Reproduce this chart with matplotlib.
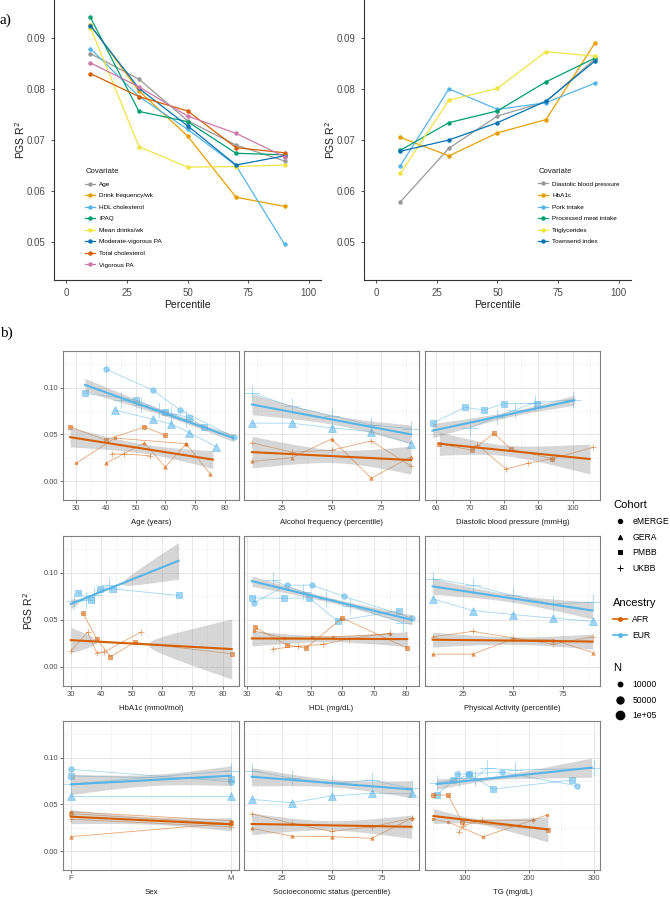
import numpy as np
import matplotlib
matplotlib.use('Agg')
import matplotlib.pyplot as plt
from matplotlib.lines import Line2D
from matplotlib.ticker import AutoMinorLocator, FixedLocator

plt.rcParams['font.family'] = ['Liberation Sans', 'DejaVu Sans']

##---------------- panel a data ----------------
pct = [10, 30, 50, 70, 90]

cov_left = ['Age', 'Drink frequency/wk', 'HDL cholesterol', 'IPAQ', 'Mean drinks/wk',
            'Moderate-vigorous PA', 'Total cholesterol', 'Vigorous PA']
r2_left = [
    [0.0869, 0.0819, 0.0738, 0.0690, 0.0659],
    [0.0925, 0.0796, 0.0708, 0.0588, 0.0570],
    [0.0879, 0.0785, 0.0721, 0.0650, 0.0496],
    [0.0940, 0.0756, 0.0736, 0.0674, 0.0671],
    [0.0920, 0.0687, 0.0647, 0.0648, 0.0651],
    [0.0924, 0.0801, 0.0728, 0.0651, 0.0669],
    [0.0830, 0.0785, 0.0757, 0.0685, 0.0675],
    [0.0851, 0.0804, 0.0747, 0.0713, 0.0667],
]

cov_right = ['Diastolic blood pressure', 'HbA1c', 'Pork intake', 'Processed meat intake',
             'Triglycerides', 'Townsend index']
r2_right = [
    [0.0579, 0.0684, 0.0747, 0.0775, 0.0858],
    [0.0705, 0.0669, 0.0714, 0.0740, 0.0889],
    [0.0650, 0.0800, 0.0760, 0.0773, 0.0811],
    [0.0680, 0.0734, 0.0757, 0.0814, 0.0860],
    [0.0635, 0.0778, 0.0801, 0.0873, 0.0864],
    [0.0678, 0.0700, 0.0734, 0.0776, 0.0854],
]

##---------------- panel b data ----------------
## each cohort: (x, R2); fits: (x ends, R2 ends, CI half widths left/mid/right)
age_eur = {'eMERGE': ([40, 56, 65, 83], [0.120, 0.097, 0.076, 0.047]),
           'PMBB': ([33, 50, 60, 68, 73], [0.094, 0.087, 0.074, 0.068, 0.058]),
           'GERA': ([43, 56, 62, 68, 77], [0.076, 0.066, 0.061, 0.052, 0.037]),
           'UKBB': ([45, 52, 58, 62, 67], [0.087, 0.081, 0.076, 0.072, 0.066])}
age_afr = {'eMERGE': ([30, 43, 67], [0.019, 0.046, 0.040]),
           'PMBB': ([28, 40, 53, 60], [0.058, 0.044, 0.058, 0.049]),
           'GERA': ([40, 53, 60, 67, 75], [0.019, 0.041, 0.015, 0.040, 0.008]),
           'UKBB': ([42, 46, 55], [0.029, 0.029, 0.027])}
age_fit = {'EUR': ([33, 83], [0.103, 0.046], [0.007, 0.003, 0.004]),
           'AFR': ([28, 76], [0.047, 0.023], [0.0105, 0.005, 0.0095])}

alc_eur = {'GERA': (pct, [0.062, 0.062, 0.057, 0.053, 0.040]),
           'UKBB': (pct, [0.094, 0.080, 0.070, 0.060, 0.056])}
alc_afr = {'GERA': (pct, [0.021, 0.025, 0.045, 0.003, 0.026]),
           'UKBB': (pct, [0.041, 0.031, 0.033, 0.043, 0.016])}
alc_fit = {'EUR': ([10, 90], [0.082, 0.050], [0.011, 0.005, 0.010]),
           'AFR': ([10, 90], [0.031, 0.0225], [0.017, 0.007, 0.015])}

dbp_eur = {'PMBB': ([59, 68.5, 74, 80, 89.5], [0.062, 0.079, 0.076, 0.083, 0.083]),
           'UKBB': ([70, 78, 83, 89, 100], [0.057, 0.069, 0.076, 0.084, 0.087])}
dbp_afr = {'PMBB': ([61, 70.5, 77, 82, 94], [0.040, 0.033, 0.051, 0.034, 0.024]),
           'UKBB': ([72, 80.5, 87, 94, 106], [0.039, 0.013, 0.019, 0.024, 0.036])}
dbp_fit = {'EUR': ([59, 100.5], [0.054, 0.0865], [0.0075, 0.003, 0.0055]),
           'AFR': ([61, 105], [0.040, 0.0236], [0.0125, 0.006, 0.016])}

hba_eur = {'PMBB': ([32.5, 36.5, 39.5, 44, 65.5], [0.079, 0.071, 0.083, 0.083, 0.076]),
           'UKBB': ([31, 35, 37.5, 42.5], [0.070, 0.071, 0.076, 0.087])}
hba_afr = {'PMBB': ([34, 38.5, 43, 51, 83], [0.057, 0.030, 0.011, 0.026, 0.014]),
           'UKBB': ([30, 35.5, 38.5, 41, 53], [0.017, 0.037, 0.015, 0.016, 0.037])}
hba_fit = {'EUR': ([30, 65.5], [0.067, 0.113], [0.0055, 0.003, 0.0195]),
           'AFR': ([30, 83], [0.0285, 0.019], [0.0134, 0.004, 0.032])}

hdl_eur = {'eMERGE': ([32, 42.5, 50.5, 60.5, 82], [0.068, 0.087, 0.087, 0.075, 0.052]),
           'PMBB': ([31.5, 41.5, 49.5, 58.5, 78], [0.0735, 0.073, 0.0735, 0.049, 0.060]),
           'UKBB': ([38, 47.5, 55, 62.5, 79], [0.092, 0.080, 0.072, 0.065, 0.047])}
hdl_afr = {'eMERGE': ([32, 41.5, 50.5, 57, 75], [0.0385, 0.031, 0.032, 0.032, 0.035]),
           'PMBB': ([32.5, 42.5, 48.5, 60, 80.5], [0.042, 0.0235, 0.020, 0.052, 0.020]),
           'UKBB': ([38, 46, 54, 62, 75], [0.019, 0.022, 0.024, 0.030, 0.036])}
hdl_fit = {'EUR': ([31.5, 82], [0.0913, 0.050], [0.0055, 0.0025, 0.0055]),
           'AFR': ([31.5, 80.5], [0.0303, 0.0296], [0.008, 0.003, 0.008])}

pa_eur = {'GERA': (pct, [0.0725, 0.060, 0.0557, 0.052, 0.0485]),
          'UKBB': (pct, [0.094, 0.0867, 0.076, 0.067, 0.069])}
pa_afr = {'GERA': (pct, [0.0136, 0.0136, 0.0296, 0.029, 0.0153]),
          'UKBB': (pct, [0.032, 0.0378, 0.031, 0.0243, 0.032])}
pa_fit = {'EUR': ([10, 90], [0.0857, 0.060], [0.0084, 0.004, 0.009]),
          'AFR': ([10, 90], [0.029, 0.027], [0.008, 0.004, 0.008])}

sex_x = [1, 2]
sex_eur = {'eMERGE': (sex_x, [0.0875, 0.0743]),
           'PMBB': (sex_x, [0.0804, 0.0768]),
           'GERA': (sex_x, [0.059, 0.059]),
           'UKBB': (sex_x, [0.0718, 0.086])}
sex_afr = {'eMERGE': (sex_x, [0.042, 0.0325]),
           'PMBB': (sex_x, [0.040, 0.0296]),
           'GERA': (sex_x, [0.0154, 0.030]),
           'UKBB': (sex_x, [0.034, 0.026])}
sex_fit = {'EUR': (sex_x, [0.0714, 0.0807], [0.011, 0.006, 0.0107]),
           'AFR': (sex_x, [0.0368, 0.0286], [0.0075, 0.004, 0.007])}

ses_eur = {'GERA': (pct, [0.0554, 0.0518, 0.059, 0.0618, 0.0618]),
           'UKBB': (pct, [0.086, 0.078, 0.0725, 0.076, 0.067])}
ses_afr = {'GERA': (pct, [0.0243, 0.016, 0.0154, 0.0136, 0.035]),
           'UKBB': (pct, [0.040, 0.0296, 0.021, 0.026, 0.035])}
ses_fit = {'EUR': ([10, 90], [0.0796, 0.066], [0.0098, 0.004, 0.009]),
           'AFR': ([10, 90], [0.029, 0.026], [0.0116, 0.005, 0.0125])}

tg_eur = {'eMERGE': ([87, 106, 157, 274], [0.082, 0.083, 0.0843, 0.070]),
          'PMBB': ([56, 82, 107, 144, 266], [0.060, 0.076, 0.082, 0.0664, 0.076]),
          'UKBB': ([56, 90, 115, 134, 178, 300], [0.0725, 0.078, 0.078, 0.0886, 0.0868, 0.0886])}
tg_afr = {'PMBB': ([51, 74, 95, 229], [0.060, 0.060, 0.0314, 0.0225]),
          'eMERGE': ([51, 74, 128, 206, 227], [0.034, 0.031, 0.0154, 0.0332, 0.0386]),
          'UKBB': ([90, 97, 126, 206], [0.020, 0.027, 0.033, 0.033])}
tg_fit = {'EUR': ([56, 297], [0.0718, 0.0893], [0.0057, 0.003, 0.0103]),
          'AFR': ([51, 229], [0.0375, 0.0232], [0.008, 0.004, 0.0134])}

facet_titles = ['Age (years)', 'Alcohol frequency (percentile)', 'Diastolic blood pressure (mmHg)',
                'HbA1c (mmol/mol)', 'HDL (mg/dL)', 'Physical Activity (percentile)',
                'Sex', 'Socioeconomic status (percentile)', 'TG (mg/dL)']
facet_ticks = [[30, 40, 50, 60, 70, 80], [25, 50, 75], [60, 70, 80, 90, 100],
               [30, 40, 50, 60, 70, 80], [30, 40, 50, 60, 70, 80], [25, 50, 75],
               [1, 2], [25, 50, 75], [100, 200, 300]]
facet_lims = [(25.6, 84.8), (6, 94), (56.8, 108), (27.4, 85.4), (29, 84.2), (6.2, 93.7),
              (0.95, 2.05), (6.2, 93.7), (37.8, 310)]
facet_data = [(age_eur, age_afr, age_fit), (alc_eur, alc_afr, alc_fit), (dbp_eur, dbp_afr, dbp_fit),
              (hba_eur, hba_afr, hba_fit), (hdl_eur, hdl_afr, hdl_fit), (pa_eur, pa_afr, pa_fit),
              (sex_eur, sex_afr, sex_fit), (ses_eur, ses_afr, ses_fit), (tg_eur, tg_afr, tg_fit)]

##---------------- styles ----------------
okabe = ['#999999', '#E69F00', '#56B4E9', '#009E73', '#F0E442', '#0072B2', '#D55E00', '#CC79A7']
anc_col = {'AFR': '#D55E00', 'EUR': '#56B4E9'}
coh_mark = {'eMERGE': 'o', 'GERA': '^', 'PMBB': 's', 'UKBB': '+'}
coh_size = {('eMERGE', 'EUR'): 4, ('GERA', 'EUR'): 5.5, ('PMBB', 'EUR'): 3.8, ('UKBB', 'EUR'): 12,
            ('eMERGE', 'AFR'): 2, ('GERA', 'AFR'): 2.5, ('PMBB', 'AFR'): 2.8, ('UKBB', 'AFR'): 5}

W, H = 670, 899
fig = plt.figure(figsize=(W / 100, H / 100), dpi=100)

def px_axes(x0, y0, x1, y1):
    return fig.add_axes([x0 / W, 1 - y1 / H, (x1 - x0) / W, (y1 - y0) / H])

##---------------- panel a ----------------
def panel_a(ax, labels, vals, cols, leg_anchor):
    for lab, v, c in zip(labels, vals, cols):
        ax.plot(pct, v, '-', marker='o', color=c, lw=0.9, ms=2.2, label=lab)
    ax.set_xlim(-5, 105)
    ax.set_ylim(0.0426, 0.0974)
    ax.set_xticks([0, 25, 50, 75, 100])
    ax.set_yticks([0.05, 0.06, 0.07, 0.08, 0.09])
    ax.set_yticklabels(['0.05', '0.06', '0.07', '0.08', '0.09'])
    for s in ['top', 'right']:
        ax.spines[s].set_visible(False)
    for s in ['left', 'bottom']:
        ax.spines[s].set_color('#333333')
        ax.spines[s].set_linewidth(0.8)
    ax.tick_params(colors='#333333', labelcolor='#4d4d4d', labelsize=7, length=2.5, width=0.6)
    ax.set_ylabel('PGS R$^2$', fontsize=7.5, color='#1a1a1a')
    ax.yaxis.set_label_coords(-0.1, 0.5)
    ax.set_xlabel('Percentile', fontsize=7.5, color='#1a1a1a', labelpad=1)
    leg = ax.legend(loc='upper left', bbox_to_anchor=leg_anchor, bbox_transform=fig.transFigure,
                    frameon=False, fontsize=4.6, title='Covariate', title_fontsize=5.6,
                    alignment='left', handlelength=1.6, labelspacing=0.95, handletextpad=0.6,
                    borderpad=0)
    leg.get_title().set_color('#1a1a1a')

ax_a1 = px_axes(54, 0, 321, 280)
panel_a(ax_a1, cov_left, r2_left, okabe, (82 / W, 1 - 165 / H))
ax_a2 = px_axes(364, 0, 631, 280)
panel_a(ax_a2, cov_right, r2_right, okabe[:6], (535 / W, 1 - 165 / H))

fig.text(0.0, 1 - 20 / H, 'a)', fontsize=11, family=['Liberation Serif', 'DejaVu Serif'], va='center')
fig.text(0.0, 1 - 333 / H, 'b)', fontsize=11, family=['Liberation Serif', 'DejaVu Serif'], va='center')

##---------------- panel b ----------------
def ci_halfwidth(xe, hw, xs):
    xm = (xe[0] + xe[1]) / 2
    coef = np.polyfit([xe[0], xm, xe[1]], np.square(hw), 2)
    return np.sqrt(np.clip(np.polyval(coef, xs), 0, None))

col_x = [(63, 239), (244, 419), (425, 600)]
row_y = [(351, 500), (536, 686), (721, 870)]

for i in range(9):
    r, c = divmod(i, 3)
    ax = px_axes(col_x[c][0], row_y[r][0], col_x[c][1], row_y[r][1])
    eur, afr, fit = facet_data[i]
    for anc, grp in [('EUR', eur), ('AFR', afr)]:
        for coh, (xv, yv) in grp.items():
            ax.plot(xv, yv, '-', color=anc_col[anc], lw=0.6, alpha=0.55, zorder=3)
            ax.plot(xv, yv, ls='none', marker=coh_mark[coh], ms=coh_size[(coh, anc)],
                    color=anc_col[anc], mew=0.6, alpha=0.55, zorder=3)
    for anc in ['EUR', 'AFR']:
        xe, ye, hw = fit[anc]
        xs = np.linspace(xe[0], xe[1], 60)
        ys = np.interp(xs, xe, ye)
        h = ci_halfwidth(xe, hw, xs)
        ax.fill_between(xs, ys - h, ys + h, color='#999999', alpha=0.4, lw=0, zorder=4)
        ax.plot(xs, ys, color=anc_col[anc], lw=1.5, zorder=5)

    ax.set_xlim(facet_lims[i])
    ax.set_ylim(-0.0203, 0.1393)
    ax.set_xticks(facet_ticks[i])
    if i == 6:
        ax.set_xticklabels(['F', 'M'])
        ax.xaxis.set_minor_locator(FixedLocator([1.25, 1.5, 1.75]))
    else:
        ax.xaxis.set_minor_locator(AutoMinorLocator(2))
    ax.set_yticks([0, 0.05, 0.10])
    ax.set_yticklabels(['0.00', '0.05', '0.10'])
    ax.yaxis.set_minor_locator(FixedLocator([0.025, 0.075, 0.125]))
    ax.grid(True, which='major', color='#e6e6e6', lw=0.7, zorder=0)
    ax.grid(True, which='minor', color='#f0f0f0', lw=0.45, zorder=0)
    ax.set_axisbelow(True)
    for s in ax.spines.values():
        s.set_color('#7f7f7f')
        s.set_linewidth(0.8)
    ax.tick_params(which='major', colors='#333333', labelcolor='#4d4d4d', labelsize=5.5,
                   length=2, width=0.5, pad=1.5)
    ax.tick_params(which='minor', length=0)
    if c != 0:
        ax.tick_params(axis='y', left=False, labelleft=False)
    ax.set_xlabel(facet_titles[i], fontsize=5.6, color='#1a1a1a', labelpad=5)
    if i == 3:
        ax.set_ylabel('PGS R$^2$', fontsize=7.5, color='#1a1a1a')
        ax.yaxis.set_label_coords(-0.16, 0.5)

##---------------- panel b legends ----------------
coh_handles = [Line2D([], [], ls='none', marker=coh_mark[k], color='black',
                      ms=(3.2 if k != 'UKBB' else 5), mew=0.7) for k in ['eMERGE', 'GERA', 'PMBB', 'UKBB']]
anc_handles = [Line2D([], [], color=anc_col[k], marker='o', ms=2.5, lw=1.2) for k in ['AFR', 'EUR']]
n_handles = [Line2D([], [], ls='none', marker='o', color='black', ms=s) for s in [3.2, 5, 6]]

leg_kw = dict(frameon=False, fontsize=6.2, title_fontsize=8, alignment='left',
              handlelength=1.6, handletextpad=0.6, borderpad=0, labelspacing=0.78)
fig.legend(coh_handles, ['eMERGE', 'GERA', 'PMBB', 'UKBB'], title='Cohort', loc='upper left',
           bbox_to_anchor=(609 / W, 1 - 496 / H), **leg_kw)
fig.legend(anc_handles, ['AFR', 'EUR'], title='Ancestry', loc='upper left',
           bbox_to_anchor=(609 / W, 1 - 594 / H), **leg_kw)
fig.legend(n_handles, ['10000', '50000', '1e+05'], title='N', loc='upper left',
           bbox_to_anchor=(609 / W, 1 - 659 / H), **leg_kw)

fig.savefig('out.png', dpi=100)
